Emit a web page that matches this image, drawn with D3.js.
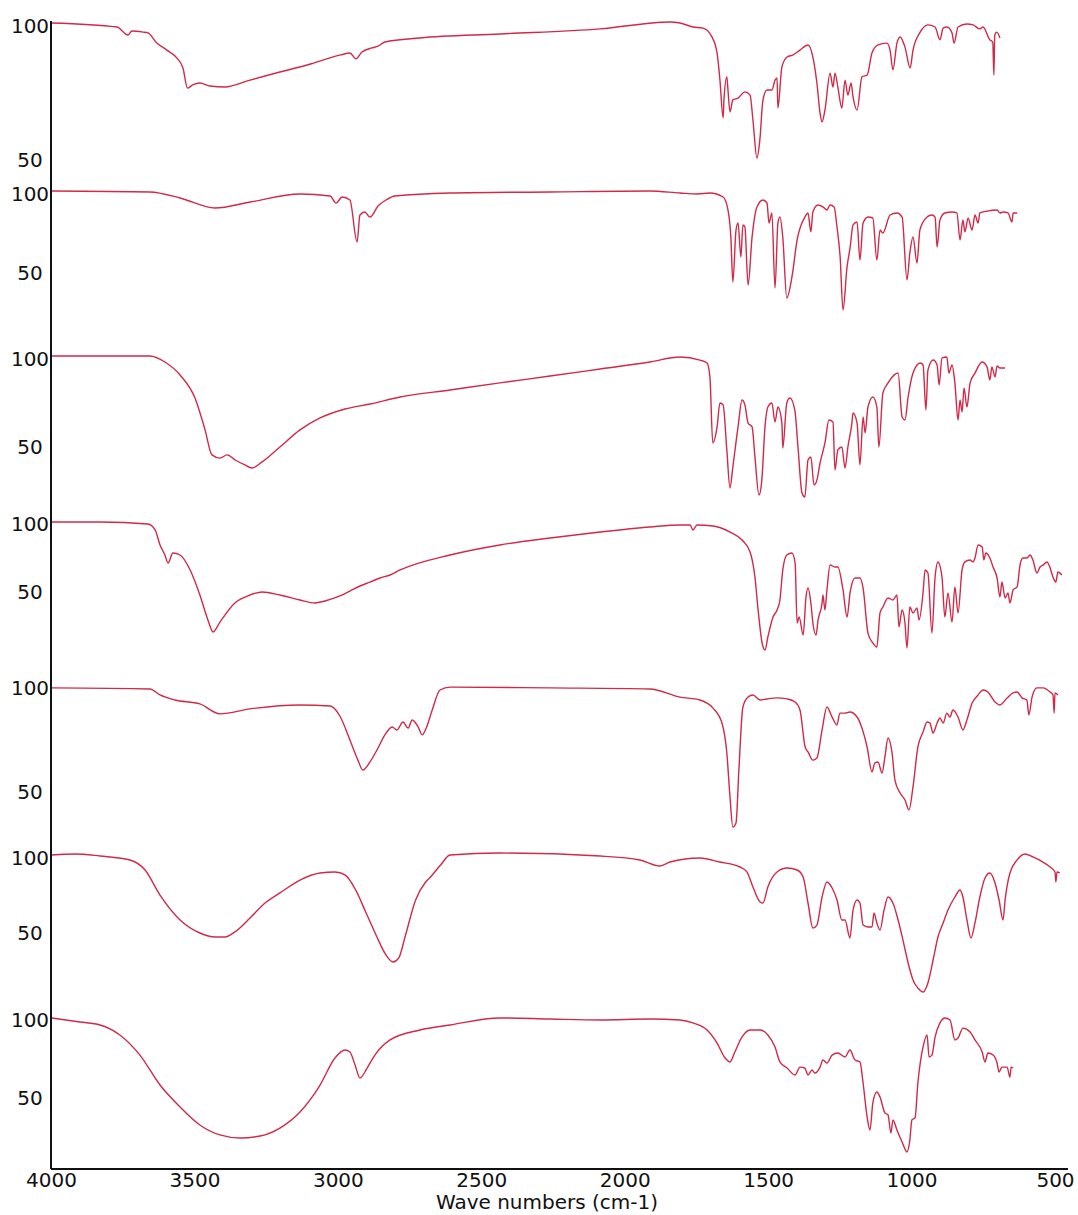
<!DOCTYPE html>
<html>
<head>
<meta charset="utf-8">
<script src="https://cdn.jsdelivr.net/npm/d3@7"></script>
<style>
  body { margin: 0; background: #fff; }
  text { font-family: "DejaVu Sans", Verdana, sans-serif; }
</style>
</head>
<body>
<svg id="chart"></svg>
<script>
// tick labels
var xTicks = [4000, 3500, 3000, 2500, 2000, 1500, 1000, 500];
var yTicks = [100, 50];

// spectra as [wavenumber, transmittance]
var spectrum1 = [[3997,100],[3770,98.5],[3732,95.5],[3718,97],[3679,96.6],[3662,96.3],[3631,92.5],[3596,89.9],[3561,86.9],[3540,83.2],[3524,75.7],[3506,76.9],[3481,77.6],[3446,76.5],[3394,76.1],[3306,78.7],[3202,81.7],[3095,84.7],[2990,88.1],[2958,88.8],[2937,86.6],[2916,89.2],[2881,90.7],[2860,91.4],[2836,92.9],[2714,94.4],[2435,95.9],[2086,97.8],[1842,100.4],[1807,100],[1762,98.5],[1727,98.1],[1696,94.8],[1678,88.8],[1668,78.7],[1657,64.6],[1654,71.3],[1644,79.9],[1640,75],[1633,66.8],[1623,71.3],[1605,72],[1581,74.3],[1563,73.1],[1553,63.8],[1539,49.6],[1529,56.3],[1518,71.3],[1504,75],[1487,75],[1476,78.7],[1469,79.5],[1466,68.3],[1452,83.6],[1434,87.3],[1413,88.1],[1389,89.9],[1361,91.8],[1344,87.3],[1330,77.6],[1319,66.4],[1312,63.1],[1302,67.5],[1284,81.3],[1274,76.1],[1267,81.3],[1257,76.1],[1243,68.3],[1232,78.7],[1222,73.1],[1211,77.6],[1204,72.4],[1190,67.5],[1173,79.9],[1155,80.6],[1138,88.8],[1117,91.8],[1086,92.5],[1075,89.9],[1065,82.5],[1051,92.5],[1040,94.8],[1023,91],[1005,83.2],[995,89.9],[970,96.6],[943,99.3],[918,98.5],[901,93.7],[890,98.1],[877,98.5],[859,96.3],[852,92.5],[838,98.5],[807,99.6],[786,99.3],[762,97.8],[751,98.5],[727,93.7],[717,92.9],[713,80.6],[710,95.5],[703,96.6],[692,94.4]];

var spectrum2 = [[3997,100],[3655,99.4],[3550,95.6],[3428,89.2],[3306,93],[3132,98.1],[3027,96.8],[3006,92.4],[2985,96.2],[2958,94.3],[2933,67.7],[2923,84.8],[2906,86.7],[2888,83.5],[2860,90.5],[2832,94.3],[2801,96.8],[2609,98.7],[2260,99.4],[1912,100],[1807,98.7],[1748,98.1],[1703,98.7],[1657,96.2],[1640,88],[1630,70.9],[1623,42.4],[1612,75.3],[1605,79.7],[1595,58.2],[1588,78.5],[1581,77.2],[1570,40.5],[1556,70.9],[1539,89.9],[1518,94.3],[1504,92.4],[1497,79.7],[1487,86.1],[1476,38.6],[1466,79.7],[1459,83.5],[1449,70.9],[1435,32.3],[1417,45.6],[1399,69],[1372,83.5],[1361,86.1],[1351,74.1],[1344,86.7],[1326,91.1],[1309,89.9],[1295,88],[1284,91.1],[1270,89.9],[1260,77.2],[1249,58.2],[1239,24.7],[1225,51.9],[1214,64.6],[1204,78.5],[1190,80.4],[1180,56.3],[1169,79.7],[1152,83.5],[1135,82.9],[1121,56.3],[1110,75.3],[1100,73.4],[1075,84.8],[1051,86.1],[1033,83.5],[1016,43.7],[1006,60.8],[995,70.9],[981,54.4],[971,75.3],[946,83.5],[929,84.8],[918,83.5],[911,64.6],[901,81.6],[884,86.1],[859,86.7],[842,86.1],[831,69],[821,81.6],[814,74.1],[803,82.9],[789,75.3],[779,84.8],[768,79.7],[762,86.1],[737,87.3],[702,88],[692,86.1],[681,86.7],[664,86.1],[650,80.4],[646,86.1],[632,86.1]];

var spectrum3 = [[3997,100],[3829,100],[3655,100],[3603,96.6],[3550,89.2],[3498,76.1],[3463,58],[3439,43.8],[3411,42],[3386,43.8],[3358,40.9],[3324,38.1],[3299,36.4],[3264,39.8],[3202,48.3],[3132,58],[3062,64.8],[2975,69.9],[2888,72.7],[2783,76.7],[2609,80.7],[2435,84.7],[2260,88.6],[2086,92.6],[1912,96.6],[1807,99.4],[1738,97.7],[1713,96],[1703,88.1],[1693,50.6],[1678,59.7],[1668,73.3],[1657,72.2],[1644,46.6],[1633,25],[1623,36.9],[1605,59.7],[1591,75],[1581,72.2],[1570,61.9],[1556,59.7],[1546,42.6],[1532,21],[1522,29.5],[1511,59.7],[1501,71],[1487,73.3],[1476,62.5],[1466,71],[1452,61.9],[1449,47.7],[1435,73.3],[1424,76.1],[1407,69.3],[1396,48.3],[1382,22.2],[1372,19.9],[1361,40.9],[1351,42.6],[1340,26.7],[1330,29.5],[1319,39.2],[1302,50.6],[1288,63.6],[1274,62.5],[1267,35.2],[1257,46.6],[1243,48.3],[1232,36.4],[1222,48.3],[1208,61.9],[1204,67.6],[1190,61.9],[1180,38.1],[1169,65.3],[1162,56.3],[1152,71],[1135,76.7],[1121,71],[1114,48.3],[1100,79],[1082,84.7],[1047,90.3],[1033,65.3],[1023,63.6],[1012,76.7],[995,90.3],[970,96],[960,94.9],[950,69.3],[943,92],[925,97.7],[911,94.9],[904,83.5],[894,98.9],[877,99.4],[870,90.3],[859,94.9],[849,84.7],[838,63.6],[831,75],[824,68.2],[817,81.8],[807,71],[796,84.7],[779,90.3],[754,96.6],[737,93.8],[727,86.4],[720,93.8],[709,88.1],[702,94.3],[692,93.2],[674,93.2]];

var spectrum4 = [[3997,99.3],[3829,99.3],[3662,97.8],[3637,93.4],[3620,82.4],[3603,75],[3592,69.1],[3575,76.5],[3550,75],[3515,64],[3481,45.6],[3453,27.2],[3435,18.4],[3411,25.7],[3359,39.7],[3306,45.6],[3264,47.8],[3202,45.6],[3132,41.9],[3080,39.7],[3045,41.2],[2993,44.9],[2958,48.5],[2923,52.2],[2888,55.1],[2853,58.1],[2818,60.3],[2783,64],[2609,75],[2435,82.4],[2260,87.5],[2086,91.9],[1912,95.6],[1807,97.1],[1772,97.1],[1762,93.4],[1748,97.1],[1692,96.3],[1633,91.9],[1591,86],[1563,77.2],[1546,58.8],[1535,34.6],[1521,10.3],[1511,5.1],[1501,14.7],[1483,29.4],[1469,34.6],[1459,41.9],[1449,64],[1435,75],[1417,76.5],[1406,69.1],[1399,25],[1392,29.4],[1378,16.2],[1368,44.1],[1361,50.7],[1351,39.7],[1344,25],[1333,16.2],[1326,27.2],[1312,39.7],[1309,45.6],[1302,34.6],[1295,49.3],[1284,67.6],[1267,66.2],[1257,66.2],[1239,49.3],[1225,29.4],[1214,47.8],[1197,58.1],[1180,58.1],[1169,50.7],[1152,17.6],[1135,10.3],[1121,7.4],[1110,32.4],[1100,36.8],[1082,43.4],[1065,41.9],[1051,45.6],[1044,22.1],[1033,34.6],[1023,25],[1016,6.6],[1006,36.8],[995,32.4],[981,36],[974,27.2],[960,47.1],[953,64],[943,61.8],[929,17.6],[918,58.8],[908,69.9],[894,58.8],[884,29.4],[873,47.1],[859,25.7],[849,51.5],[838,32.4],[824,64],[814,69.9],[796,71.3],[786,69.9],[779,72.8],[768,82.4],[754,80.9],[748,71.3],[741,76.5],[727,72.8],[716,66.2],[702,58.1],[692,44.1],[685,55.1],[674,43.4],[664,47.1],[657,39.7],[646,49.3],[632,51.5],[622,67.6],[612,72.8],[598,72.8],[587,75],[577,71.3],[563,61.8],[552,66.2],[542,67.6],[528,69.9],[517,65.4],[507,58.8],[497,55.1],[490,62.5],[476,60.3]];

var spectrum5 = [[3997,98.6],[3655,98.1],[3620,95.2],[3568,92.8],[3481,90.9],[3411,86.1],[3306,88.5],[3132,90.4],[3027,89.9],[2993,85.1],[2958,73.6],[2930,63.9],[2913,59.1],[2888,63],[2860,69.7],[2836,76],[2811,79.8],[2794,78.4],[2773,82.2],[2755,79.3],[2741,83.2],[2720,79.8],[2706,76],[2692,79.3],[2671,88],[2644,97.6],[2609,99],[2260,98.6],[1912,98.1],[1807,94.2],[1738,92.8],[1692,88.9],[1661,81.7],[1644,67.3],[1633,46.2],[1623,31.7],[1612,33.7],[1602,59.1],[1588,89.4],[1570,94.2],[1553,95.2],[1528,92.8],[1504,93.3],[1469,93.8],[1434,93.3],[1406,91.8],[1389,88],[1371,70.2],[1361,67.8],[1344,63.9],[1330,64.9],[1312,78.4],[1295,89.4],[1277,84.6],[1260,80.8],[1250,86.5],[1232,86.5],[1215,87],[1190,84.6],[1173,79.3],[1155,70.2],[1138,58.2],[1128,62.5],[1117,63],[1103,57.7],[1093,65.4],[1082,74.5],[1068,67.3],[1058,54.3],[1040,48.1],[1023,44.7],[1009,39.9],[995,51],[978,70.2],[960,77.4],[946,82.2],[936,81.7],[925,76.9],[911,81.7],[901,84.1],[890,81.7],[877,86.5],[866,84.6],[856,88],[838,84.6],[821,78.4],[807,83.2],[789,91.3],[768,95.2],[751,97.6],[734,96.6],[709,91.8],[692,90.4],[667,93.8],[646,96.2],[632,96.6],[615,93.8],[598,92.8],[591,85.6],[580,94.2],[563,98.6],[542,98.6],[517,96.6],[507,95.2],[503,86.5],[500,96.2],[490,95.2]];

var spectrum6 = [[3997,100],[3915,100.7],[3829,99.3],[3725,96.7],[3672,90],[3620,73.3],[3550,56.7],[3481,48],[3428,45.3],[3394,45.3],[3359,48.7],[3306,58],[3254,68],[3202,74.7],[3132,83.3],[3062,88],[3010,88.7],[2975,86.7],[2938,76.7],[2903,62],[2867,46.7],[2832,33.3],[2808,28.7],[2788,31.3],[2764,46.7],[2729,70],[2694,82],[2677,85.3],[2642,93.3],[2609,100],[2435,101.3],[2086,99.3],[1947,96.7],[1877,92.7],[1842,95.3],[1738,98],[1668,95.3],[1598,92],[1574,88.7],[1553,78.7],[1528,68.7],[1518,68],[1501,78.7],[1469,88.7],[1434,91.3],[1399,90],[1378,85.3],[1361,68],[1344,51.3],[1330,53.3],[1312,72],[1295,82],[1277,78],[1260,70],[1243,56.7],[1232,56.7],[1215,44.7],[1204,63.3],[1190,70],[1180,68],[1169,53.3],[1152,52],[1138,52],[1131,61.3],[1121,54.7],[1110,50],[1096,63.3],[1082,72],[1065,68],[1047,56.7],[1030,43.3],[1012,28],[995,16.7],[978,11.3],[960,8.7],[943,14.7],[925,30],[908,45.3],[890,54.7],[873,63.3],[849,72],[831,76.7],[821,72],[807,56.7],[793,44.7],[779,54.7],[762,72],[744,84.7],[727,88],[709,81.3],[695,70],[681,56.7],[674,70],[657,88],[632,96.7],[605,100.7],[577,98.7],[542,95.3],[517,92],[500,88.7],[497,82],[493,88.7],[483,88]];

var spectrum7 = [[3997,99.4],[3899,96.8],[3829,94.9],[3760,88.5],[3690,75.6],[3620,56.4],[3550,42.3],[3481,30.8],[3411,24.4],[3341,22.4],[3271,23.7],[3202,28.8],[3132,39.1],[3062,56.4],[3010,73.7],[2975,78.8],[2958,77.6],[2940,69.2],[2923,60.9],[2898,67.3],[2871,75.6],[2818,85.3],[2714,91.7],[2609,94.9],[2435,99.4],[2260,98.7],[2086,98.1],[1912,98.7],[1807,98.1],[1762,96.2],[1713,91.7],[1678,83.3],[1650,73.7],[1633,71.2],[1616,77.6],[1591,87.2],[1563,91.7],[1528,91.7],[1501,88.5],[1476,80.8],[1459,71.2],[1434,67.3],[1406,62.8],[1389,67.9],[1372,67.3],[1361,62.8],[1347,66],[1337,64.1],[1319,67.9],[1309,72.4],[1295,70.5],[1277,75.6],[1257,76.9],[1232,74.4],[1215,78.8],[1197,72.4],[1180,71.2],[1169,57.7],[1155,35.9],[1145,27.6],[1135,44.9],[1121,51.9],[1110,48.7],[1093,38.5],[1082,37.2],[1072,25.6],[1065,34],[1051,27.6],[1033,19.9],[1016,13.5],[1006,21.2],[999,34],[988,35.3],[978,57.7],[960,80.8],[946,88.5],[939,74.4],[929,75.6],[918,87.2],[901,96.2],[884,99.4],[866,98.1],[849,85.3],[838,86.5],[821,92.9],[796,90.4],[779,85.3],[754,77.6],[744,71.2],[734,76.9],[716,75.6],[702,70.5],[695,64.7],[685,67.9],[667,67.9],[657,61.5],[653,67.9],[646,67.3]];

var spectra = [spectrum1, spectrum2, spectrum3, spectrum4, spectrum5, spectrum6, spectrum7];

var width = 1078, height = 1215;
var left = 51, bottom = 1169;
var lineColor = '#d02a48';

var svg = d3.select('#chart')
    .attr('width', width)
    .attr('height', height);

var x = d3.scaleLinear()
    .domain([4000, 500])
    .range([left, 1055]);

// pixel rows of the 50 and 100 levels for each stacked spectrum
var bands = [[157, 23], [270, 191], [444, 356], [589, 521], [789, 685], [930, 855], [1095, 1017]];

spectra.forEach(function(data, i) {
    var y = d3.scaleLinear()
        .domain([50, 100])
        .range(bands[i]);

    var line = d3.line()
        .curve(d3.curveMonotoneX)
        .x(function(d) { return x(d[0]); })
        .y(function(d) { return y(d[1]); });

    svg.append('path')
        .datum(data)
        .attr('d', line)
        .attr('fill', 'none')
        .attr('stroke', lineColor)
        .attr('stroke-width', 1.4)
        .attr('stroke-linejoin', 'round');

    // y labels for this spectrum
    var g = svg.append('g')
        .attr('transform', 'translate(' + left + ',0)')
        .call(d3.axisLeft(y).tickValues(yTicks).tickSize(0).tickPadding(0));
    g.select('.domain').remove();
    g.selectAll('text')
        .attr('x', -21)
        .attr('y', 3)
        .attr('text-anchor', 'middle')
        .attr('font-size', 20)
        .attr('font-family', '"DejaVu Sans", Verdana, sans-serif')
        .attr('fill', '#111');
});

// left axis line
svg.append('line')
    .attr('x1', left).attr('x2', left)
    .attr('y1', 21).attr('y2', bottom)
    .attr('stroke', '#111')
    .attr('stroke-width', 2);

// bottom axis
var xg = svg.append('g')
    .attr('transform', 'translate(0,' + bottom + ')')
    .call(d3.axisBottom(x).tickValues(xTicks).tickSize(0).tickPadding(4)
        .tickFormat(d3.format('d')));
xg.select('.domain').remove();
xg.selectAll('text')
    .attr('font-size', 20)
    .attr('font-family', '"DejaVu Sans", Verdana, sans-serif')
    .attr('fill', '#111');

svg.append('line')
    .attr('x1', left).attr('x2', 1068)
    .attr('y1', bottom).attr('y2', bottom)
    .attr('stroke', '#111')
    .attr('stroke-width', 2);

svg.append('text')
    .attr('x', 547)
    .attr('y', 1209)
    .attr('text-anchor', 'middle')
    .attr('font-size', 20)
    .attr('fill', '#111')
    .text('Wave numbers (cm-1)');
</script>
</body>
</html>
